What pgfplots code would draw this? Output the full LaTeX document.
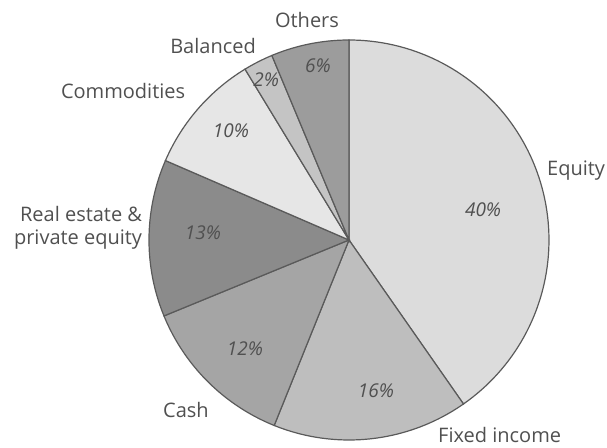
\documentclass[border=0pt]{standalone}
\usepackage{pgfplots}
\pgfplotsset{compat=1.18}
\usepgfplotslibrary{polar}
\usepackage{fontspec}
\setmainfont{Open Sans}
\definecolor{cEq}{HTML}{DCDCDC}
\definecolor{cFi}{HTML}{BEBEBE}
\definecolor{cCa}{HTML}{A5A5A5}
\definecolor{cRe}{HTML}{8B8B8B}
\definecolor{cCo}{HTML}{E6E6E6}
\definecolor{cBa}{HTML}{C4C4C4}
\definecolor{cOt}{HTML}{9C9C9C}
\definecolor{cLine}{HTML}{5A5A5A}
\definecolor{cText}{HTML}{505050}
% shares (percent), clockwise from the top
\def\pEq{40.3}
\def\pFi{15.8}
\def\pCa{12.7}
\def\pRe{12.7}
\def\pCo{9.8}
\def\pBa{2.4}
\def\pOt{6.3}
\pgfmathsetmacro\aA{90}
\pgfmathsetmacro\aB{\aA-3.6*\pEq}
\pgfmathsetmacro\aC{\aB-3.6*\pFi}
\pgfmathsetmacro\aD{\aC-3.6*\pCa}
\pgfmathsetmacro\aE{\aD-3.6*\pRe}
\pgfmathsetmacro\aF{\aE-3.6*\pCo}
\pgfmathsetmacro\aG{\aF-3.6*\pBa}
\pgfmathsetmacro\aH{\aG-3.6*\pOt}
\begin{document}
\begin{tikzpicture}
\begin{polaraxis}[hide axis, width=200pt, height=200pt, scale only axis,
  xmin=0, xmax=360, ymin=0, ymax=1, clip=false,
  every axis plot/.append style={draw=cLine, line width=0.6pt, samples=90, no markers},
  nodes={text=cText, font=\fontsize{10}{11.5}\selectfont}]
\addplot[fill=cEq, domain=\aB:\aA] {1} -- (axis cs:0,0) -- cycle;
\addplot[fill=cFi, domain=\aC:\aB] {1} -- (axis cs:0,0) -- cycle;
\addplot[fill=cCa, domain=\aD:\aC] {1} -- (axis cs:0,0) -- cycle;
\addplot[fill=cRe, domain=\aE:\aD] {1} -- (axis cs:0,0) -- cycle;
\addplot[fill=cCo, domain=\aF:\aE] {1} -- (axis cs:0,0) -- cycle;
\addplot[fill=cBa, domain=\aG:\aF] {1} -- (axis cs:0,0) -- cycle;
\addplot[fill=cOt, domain=\aH:\aG] {1} -- (axis cs:0,0) -- cycle;
\coordinate (O) at (axis cs:0,0);
% percentages
\node[font=\itshape\fontsize{9.5}{11}\selectfont] at (axis cs:12.6,0.687) {40\%};
\node[font=\itshape\fontsize{9.5}{11}\selectfont] at (axis cs:-79.9,0.767) {16\%};
\node[font=\itshape\fontsize{9.5}{11}\selectfont] at (axis cs:226.3,0.753) {12\%};
\node[font=\itshape\fontsize{9.5}{11}\selectfont] at (axis cs:177.3,0.731) {13\%};
\node[font=\itshape\fontsize{9.5}{11}\selectfont] at (axis cs:137.3,0.803) {10\%};
\node[font=\itshape\fontsize{9.5}{11}\selectfont] at (axis cs:117.4,0.90) {2\%};
\node[font=\itshape\fontsize{9.5}{11}\selectfont] at (axis cs:100.1,0.884) {6\%};
% category names
\node at (axis cs:100.8,1.12) {Others};
\node at (axis cs:125,1.185) {Balanced};
\node at (axis cs:146.6,1.353) {Commodities};
\node[align=right] at (axis cs:177.5,1.356) {Real estate \&\\private equity};
\node at (axis cs:226.2,1.178) {Cash};
\node at (axis cs:-52.3,1.232) {Fixed income};
\node at (axis cs:17.1,1.188) {Equity};
\end{polaraxis}
\pgfresetboundingbox
\path[use as bounding box] (O) ++(-174.5pt,120pt) rectangle ++(303.5pt,-224pt);
\end{tikzpicture}
\end{document}
